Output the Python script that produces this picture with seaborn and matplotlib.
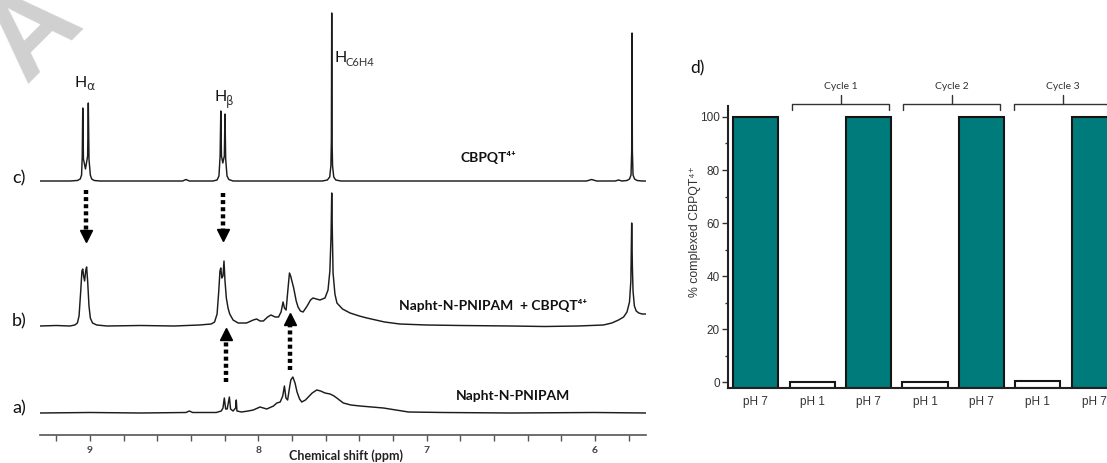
import numpy as np
import pandas as pd
import matplotlib
matplotlib.use("Agg")
import matplotlib.pyplot as plt
import seaborn as sns
from matplotlib.ticker import MultipleLocator

sns.set_theme(style="white")
plt.rcParams["font.family"] = ["Lato", "DejaVu Sans"]

# ---------------- data: 1H NMR traces (ppm, intensity) -------------
c_ppm = [9.297, 9.12, 9.075, 9.058, 9.050, 9.046, 9.043, 9.039, 9.027, 9.014, 9.010, 9.006,
         8.998, 8.990, 8.975, 8.94, 8.45, 8.43, 8.41, 8.27, 8.245, 8.234, 8.227, 8.223,
         8.219, 8.211, 8.202, 8.198, 8.194, 8.186, 8.175, 8.15, 7.62, 7.59, 7.576, 7.569,
         7.566, 7.564, 7.562, 7.559, 7.552, 7.54, 7.51, 6.05, 6.02, 5.99, 5.88, 5.86, 5.84,
         5.81, 5.795, 5.786, 5.782, 5.780, 5.778, 5.774, 5.765, 5.75, 5.72, 5.697]
c_int = [0, 0, 0.5, 2, 6, 25, 73, 22, 12, 25, 78, 22,
         6, 2, 0.5, 0, 0, 1.5, 0, 0, 1, 5, 25, 70,
         25, 18, 25, 67, 22, 5, 1.5, 0, 0, 1, 4, 15,
         40, 168, 40, 15, 4, 1, 0, 0, 1.5, 0, 0, 1, 0,
         0.5, 2, 6, 30, 148, 30, 6, 2, 0.5, 0, 0]

b_ppm = [9.297, 9.20, 9.12, 9.09, 9.075, 9.065, 9.055, 9.048, 9.043, 9.038, 9.032, 9.025,
         9.020, 9.014, 9.006, 8.998, 8.985, 8.96, 8.90, 8.70, 8.50, 8.35, 8.28, 8.26, 8.245,
         8.235, 8.228, 8.223, 8.217, 8.210, 8.204, 8.198, 8.190, 8.180, 8.17, 8.15, 8.12,
         8.07, 8.03, 8.01, 7.99, 7.97, 7.945, 7.925, 7.90, 7.88, 7.865, 7.853, 7.845, 7.835,
         7.825, 7.815, 7.808, 7.79, 7.775, 7.764, 7.75, 7.734, 7.71, 7.69, 7.675, 7.655,
         7.634, 7.604, 7.586, 7.575, 7.568, 7.564, 7.560, 7.556, 7.545, 7.533, 7.50, 7.455,
         7.40, 7.355, 7.25, 7.16, 7.0, 6.8, 6.5, 6.3, 6.1, 5.95, 5.90, 5.86, 5.83, 5.81,
         5.795, 5.787, 5.782, 5.778, 5.774, 5.766, 5.755, 5.74, 5.72, 5.697]
b_int = [0, 0.5, 0, 1, 3, 10, 35, 55, 57, 50, 45, 56,
         59, 45, 20, 8, 3, 1, 0, 0.5, 0, 1, 2, 4, 12,
         35, 55, 58, 48, 50, 65, 45, 28, 18, 12, 6, 3,
         3, 6, 7, 5, 5, 9, 11, 9, 9, 14, 24, 18, 16,
         35, 53, 50, 38, 25, 19, 15, 14, 20, 26, 28, 27,
         26, 28, 36, 55, 90, 133, 90, 53, 32, 23, 17, 13,
         10, 8, 4, 2, 1, 0.5, 0, -0.5, 0, 1, 3, 6, 9, 14,
         24, 45, 103, 60, 35, 20, 15, 13, 12, 12]

a_ppm = [9.297, 9.0, 8.7, 8.43, 8.41, 8.39, 8.25, 8.22, 8.21, 8.202, 8.194, 8.185, 8.172,
         8.165, 8.15, 8.135, 8.131, 8.127, 8.10, 8.06, 8.03, 7.99, 7.95, 7.91, 7.89, 7.87,
         7.855, 7.845, 7.836, 7.826, 7.815, 7.807, 7.795, 7.782, 7.77, 7.755, 7.742, 7.72,
         7.703, 7.68, 7.653, 7.63, 7.604, 7.574, 7.55, 7.534, 7.495, 7.45, 7.396, 7.257,
         7.108, 6.9, 6.5, 6.0, 5.697]
a_int = [0, 0.5, 0, 0.5, 2, 0.5, 0.5, 2, 5, 15, 4, 4, 16,
         4, 2, 5, 13, 2, 1, 2, 3, 6, 4, 7, 10, 11,
         17, 27, 15, 13, 25, 33, 36, 30, 21, 14, 11, 13,
         16, 20, 23, 22, 20, 19, 17, 15, 10, 8, 7, 5,
         1, 0.5, 0, 0.5, 0]

ppm_ticks = [9, 8, 7, 6]

# ---------------- data: complexation cycles ---------------------------------------------
conditions = ["pH 7", "pH 1", "pH 7", "pH 1", "pH 7", "pH 1", "pH 7"]
complexed_pct = [100, 0, 100, 0, 100, 0.4, 100]
cycle_labels = ["Cycle 1", "Cycle 2", "Cycle 3"]

# ---------------- layout ------------------------------------------------------------------
W, H = 1107, 463
fig = plt.figure(figsize=(W / 100, H / 100), dpi=100)

def fx(px):
    return px / W

def fy(py):
    return 1 - py / H

# watermark fragment (big rotated letter, partly off the page)
fig.text(fx(34), fy(33), "A", fontsize=84, fontweight="bold", color="#d0d0d0",
         rotation=45, ha="center", va="center", rotation_mode="anchor",
         family=["Liberation Sans"], zorder=0)

# ---------------- NMR panel -----------------------------------------------------------------
ax1 = fig.add_axes([fx(40), fy(435), fx(606), 435 / H])
ax1.set_xlim(9.297, 5.697)
ax1.set_ylim(0, 435)
ax1.patch.set_alpha(0)

offsets = {"c": 254, "b": 109, "a": 22}
line_kw = dict(color="#1c1c1c", linewidth=1.05, estimator=None, sort=False, legend=False)
sns.lineplot(x=c_ppm, y=np.array(c_int) + offsets["c"], ax=ax1, **line_kw)
sns.lineplot(x=b_ppm, y=np.array(b_int) + offsets["b"], ax=ax1, **line_kw)
sns.lineplot(x=a_ppm, y=np.array(a_int) + offsets["a"], ax=ax1, **line_kw)

for s in ["left", "right", "top"]:
    ax1.spines[s].set_visible(False)
ax1.spines["bottom"].set_color("#555555")
ax1.spines["bottom"].set_linewidth(1.2)
ax1.set_xticks(ppm_ticks)
ax1.set_xticklabels([str(t) for t in ppm_ticks], fontsize=7.5, fontweight="bold", color="#444444")
ax1.xaxis.set_minor_locator(MultipleLocator(0.2))
ax1.tick_params(axis="x", which="both", direction="out", length=4, width=1, color="#555555",
                bottom=True, pad=4)
ax1.set_yticks([])
ax1.set_xlabel("")
ax1.set_ylabel("")
fig.text(fx(346), fy(456), "Chemical shift (ppm)", fontsize=9, fontweight="bold",
         color="#222222", ha="center", va="center")

# dotted arrows
def arrow(x, y0, y1, up):
    ax1.plot([x, x], [y0, y1], color="black", linewidth=3.2,
             linestyle=(0, (0.9, 0.7)), dash_capstyle="butt", solid_capstyle="butt")
    ax1.plot([x], [y1 + (6 if up else -6)], marker="^" if up else "v", markersize=8.5,
             color="black", linestyle="none")

arrow(9.024, 245, 205, up=False)
arrow(8.212, 242, 206, up=False)
arrow(8.192, 53, 95, up=True)
arrow(7.812, 65, 110, up=True)

# trace labels
lab_kw = dict(fontsize=13, color="#111111", ha="left", va="center")
fig.text(fx(12), fy(178), "c)", **lab_kw)
fig.text(fx(12), fy(321), "b)", **lab_kw)
fig.text(fx(12), fy(408), "a)", **lab_kw)

name_kw = dict(fontsize=10, fontweight="bold", color="#111111", ha="center", va="center")
fig.text(fx(488), fy(158), "CBPQT\u2074\u207a", **name_kw)
fig.text(fx(493), fy(305), "Napht-N-PNIPAM  + CBPQT\u2074\u207a", **name_kw)
fig.text(fx(513), fy(396), "Napht-N-PNIPAM", **name_kw)

# proton labels
fig.text(fx(75), fy(83), "H", fontsize=11.5, color="#111111", ha="left", va="center")
fig.text(fx(86), fy(87), "\u03b1", fontsize=9, color="#333333", ha="left", va="center",
         family=["DejaVu Sans"])
fig.text(fx(215), fy(97), "H", fontsize=11.5, color="#111111", ha="left", va="center")
fig.text(fx(226), fy(101), "\u03b2", fontsize=8.5, color="#333333", ha="left", va="center",
         family=["DejaVu Sans"])
fig.text(fx(335), fy(58), "H", fontsize=11.5, color="#111111", ha="left", va="center")
fig.text(fx(346), fy(62), "C6H4", fontsize=8, color="#333333", ha="left", va="center")

# ---------------- bar panel -----------------------------------------------------------------
YMIN, YMAX = -2.26, 104.15
ax2 = fig.add_axes([fx(728), fy(388), fx(1122 - 728), (388 - 106) / H])
df = pd.DataFrame({"pos": range(len(conditions)), "cond": conditions, "pct": complexed_pct})
sns.barplot(data=df, x="pos", y="pct", hue="cond",
            palette={"pH 7": "#007b7b", "pH 1": "white"}, dodge=False, legend=False,
            saturation=1, width=0.8, edgecolor="#151515", linewidth=1.5, ax=ax2)
# bars start at the axis floor as in the original plot
for p in ax2.patches:
    h = p.get_height()
    p.set_y(YMIN)
    p.set_height(h - YMIN)

ax2.set_ylim(YMIN, YMAX)
ax2.set_xlim(-0.49, 6.49)
ax2.set_xticks(range(len(conditions)))
ax2.set_xticklabels(conditions)
ax2.set_yticks([0, 20, 40, 60, 80, 100])
ax2.yaxis.set_minor_locator(MultipleLocator(10))
ax2.tick_params(axis="y", which="major", direction="out", length=4, width=1, color="#333333",
                labelsize=8.5, labelcolor="#333333", left=True, pad=2)
ax2.tick_params(axis="y", which="minor", direction="out", length=2.5, width=1, color="#333333",
                left=True)
ax2.tick_params(axis="x", length=0, labelsize=8.5, labelcolor="#333333", pad=6)
for lab in ax2.get_xticklabels() + ax2.get_yticklabels():
    lab.set_family(["Liberation Sans", "DejaVu Sans"])
ax2.set_xlabel("")
ax2.set_ylabel("")
for s in ["right", "top"]:
    ax2.spines[s].set_visible(False)
for s in ["left", "bottom"]:
    ax2.spines[s].set_color("#222222")
    ax2.spines[s].set_linewidth(1.5)

fig.text(fx(695), fy(232), "% complexed CBPQT\u2074\u207a", rotation=90, fontsize=8.8,
         color="#333333", ha="center", va="center", family=["Liberation Sans", "DejaVu Sans"])
fig.text(fx(690), fy(68), "d)", fontsize=12.5, color="#111111", ha="left", va="center")

# cycle brackets
centers = [1.51, 3.47, 5.44]
half = 0.86
for cx, lab in zip(centers, cycle_labels):
    ax2.plot([cx - half, cx - half, cx + half, cx + half], [102.6, 104.9, 104.9, 102.6],
             color="#333333", linewidth=1.0, clip_on=False)
    ax2.plot([cx, cx], [104.9, 108.3], color="#333333", linewidth=1.0, clip_on=False)
    ax2.text(cx, 111.5, lab, fontsize=7.5, color="#333333", ha="center", va="center")

fig.savefig("out.png", dpi=100)
